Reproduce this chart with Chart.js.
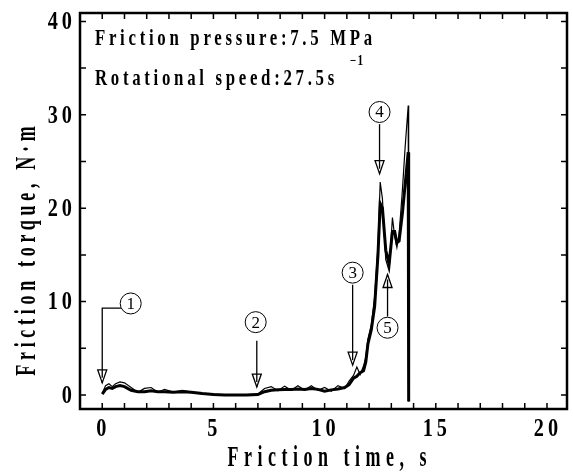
<!DOCTYPE html>
<html>
<head>
<meta charset="utf-8">
<script src="https://cdn.jsdelivr.net/npm/chart.js@4.4.0/dist/chart.umd.min.js"></script>
<style>
  html, body { margin: 0; padding: 0; background: #fff; }
  #wrap { width: 573px; height: 473px; }
</style>
</head>
<body>
<div id="wrap"><canvas id="torqueChart"></canvas></div>
<script>
// friction time (s) and torque (N·m)
const timeS = [0, 0.15, 0.3, 0.45, 0.6, 0.8, 1.0, 1.3, 1.6, 1.9, 2.2, 2.5, 2.8, 3.2, 3.6, 4.0, 4.5, 5.0, 5.5, 6.0, 6.5, 7.0, 7.3, 7.6, 7.9, 8.2, 8.5, 8.8, 9.1, 9.4, 9.7, 10.0, 10.3, 10.6, 10.9, 11.1, 11.3, 11.45, 11.6, 11.75, 11.85, 11.95, 12.1, 12.25, 12.4, 12.5, 12.6, 12.75, 12.9, 13.05, 13.15, 13.25, 13.35, 13.5, 13.62, 13.76, 13.78];
const torqueThick = [0.1, 0.6, 0.8, 0.7, 0.9, 1.0, 0.9, 0.5, 0.35, 0.35, 0.45, 0.35, 0.35, 0.3, 0.35, 0.3, 0.15, 0.05, 0.0, 0.0, 0.0, 0.05, 0.35, 0.5, 0.55, 0.6, 0.6, 0.65, 0.6, 0.7, 0.6, 0.4, 0.55, 0.65, 0.8, 1.1, 1.8, 2.0, 2.4, 2.6, 3.5, 5.5, 7.0, 9.5, 15.0, 20.5, 20.0, 15.5, 14.0, 17.5, 17.5, 16.3, 16.5, 19.5, 22.5, 26.0, -0.7];
const torqueThin = [0.2, 1.0, 1.2, 0.9, 1.2, 1.4, 1.3, 0.8, 0.3, 0.7, 0.8, 0.3, 0.6, 0.3, 0.5, 0.35, 0.1, 0.1, 0.0, 0.0, 0.05, 0.1, 0.7, 0.9, 0.45, 0.95, 0.5, 1.0, 0.5, 1.0, 0.5, 0.8, 0.4, 1.0, 0.7, 1.5, 2.1, 3.0, 2.2, 3.1, 4.0, 6.0, 7.5, 10.5, 16.0, 22.8, 21.0, 14.5, 13.3, 19.0, 17.0, 15.8, 17.2, 22.0, 26.5, 31.0, -0.7];

const xTicks = [0, 5, 10, 15, 20];
const yTicks = [0, 10, 20, 30, 40];
const xTitle = 'Friction time, s';
const yTitle = 'Friction torque, N·m';
const infoLines = ['Friction pressure:7.5 MPa', 'Rotational speed:27.5s'];

// numbered markers: circle centre and arrow path, in data units
const markers = [
  { num: '1', circle: [1.28, 9.8], path: [[0.85, 9.3], [0, 9.3], [0, 1.3]] },
  { num: '2', circle: [6.9, 7.8], path: [[6.95, 5.8], [6.95, 0.85]] },
  { num: '3', circle: [11.26, 13.1], path: [[11.26, 11.8], [11.26, 3.2]] },
  { num: '4', circle: [12.47, 30.3], path: [[12.47, 29.0], [12.47, 23.7]] },
  { num: '5', circle: [12.83, 7.2], path: [[12.83, 8.4], [12.83, 12.9]] }
];

const SERIF = '"Liberation Serif", "DejaVu Serif", serif';

// narrow, letter-spaced text like the scanned figure
function squeezed(ctx, text, x, y, font, sx, spacing, align) {
  ctx.save();
  ctx.font = font;
  ctx.letterSpacing = (spacing / sx) + 'px';
  ctx.textAlign = 'left';
  const w = ctx.measureText(text).width - spacing / sx;
  ctx.translate(x, y);
  ctx.scale(sx, 1);
  let x0 = 0;
  if (align === 'center') x0 = -w / 2;
  else if (align === 'right') x0 = -w;
  ctx.fillText(text, x0, 0);
  ctx.restore();
}

const framePlugin = {
  id: 'frame',
  afterDraw(chart) {
    const ctx = chart.ctx;
    const a = chart.chartArea;
    const xs = chart.scales.x, ys = chart.scales.y;
    ctx.save();
    ctx.strokeStyle = '#000';
    ctx.fillStyle = '#000';

    // box
    ctx.lineWidth = 2.5;
    ctx.strokeRect(a.left, a.top, a.right - a.left, a.bottom - a.top);

    // inward ticks on all four sides
    ctx.lineWidth = 1.5;
    ctx.beginPath();
    for (let t = 0; t <= 20; t++) {
      const px = xs.getPixelForValue(t);
      ctx.moveTo(px, a.bottom); ctx.lineTo(px, a.bottom - 6);
      ctx.moveTo(px, a.top); ctx.lineTo(px, a.top + 6);
    }
    for (let v = 0; v <= 40; v += 5) {
      const py = ys.getPixelForValue(v);
      ctx.moveTo(a.left, py); ctx.lineTo(a.left + 6, py);
      ctx.moveTo(a.right, py); ctx.lineTo(a.right - 6, py);
    }
    ctx.stroke();

    // tick labels
    ctx.textBaseline = 'middle';
    const tickFont = 'bold 26px ' + SERIF;
    xs.ticks.forEach(tk => {
      squeezed(ctx, String(tk.value), xs.getPixelForValue(tk.value) - 1, 429, tickFont, 0.78, 4, 'center');
    });
    ys.ticks.forEach(tk => {
      squeezed(ctx, String(tk.value), a.left - 8, ys.getPixelForValue(tk.value) + 1, tickFont, 0.78, 4, 'right');
    });

    // axis titles
    ctx.textBaseline = 'alphabetic';
    const titleFont = 'bold 30px ' + SERIF;
    squeezed(ctx, xTitle, 327, 466, titleFont, 0.6, 5.5, 'center');
    ctx.save();
    ctx.translate(35, 251);
    ctx.rotate(-Math.PI / 2);
    squeezed(ctx, yTitle, 0, 0, titleFont, 0.6, 4.7, 'center');
    ctx.restore();

    // test conditions
    const infoFont = 'bold 24px ' + SERIF;
    squeezed(ctx, infoLines[0], a.left + 15, 45, infoFont, 0.7, 3.7, 'left');
    squeezed(ctx, infoLines[1], a.left + 15, 85, infoFont, 0.7, 3.7, 'left');
    squeezed(ctx, '−1', 350, 65, 'bold 14px ' + SERIF, 0.8, 1, 'left');

    // numbered markers with arrows
    markers.forEach(m => {
      const cx = xs.getPixelForValue(m.circle[0]);
      const cy = ys.getPixelForValue(m.circle[1]);
      ctx.lineWidth = 1;
      ctx.beginPath();
      ctx.arc(cx, cy, 10.5, 0, Math.PI * 2);
      ctx.stroke();
      ctx.font = '17px ' + SERIF;
      ctx.letterSpacing = '0px';
      ctx.textAlign = 'center';
      ctx.textBaseline = 'middle';
      ctx.fillText(m.num, cx, cy + 1);

      const pts = m.path.map(p => [xs.getPixelForValue(p[0]), ys.getPixelForValue(p[1])]);
      ctx.lineWidth = 1.3;
      ctx.beginPath();
      ctx.moveTo(pts[0][0], pts[0][1]);
      for (let i = 1; i < pts.length; i++) ctx.lineTo(pts[i][0], pts[i][1]);
      ctx.stroke();

      // hollow arrowhead
      const tip = pts[pts.length - 1], prev = pts[pts.length - 2];
      const dir = Math.sign(tip[1] - prev[1]);
      ctx.beginPath();
      ctx.moveTo(tip[0], tip[1]);
      ctx.lineTo(tip[0] - 4.5, tip[1] - dir * 13);
      ctx.lineTo(tip[0] + 4.5, tip[1] - dir * 13);
      ctx.closePath();
      ctx.fillStyle = '#fff';
      ctx.fill();
      ctx.stroke();
      ctx.beginPath();
      ctx.moveTo(tip[0], tip[1] - dir * 13);
      ctx.lineTo(tip[0], tip[1] - dir * 5);
      ctx.stroke();
      ctx.fillStyle = '#000';
    });
    ctx.restore();
  }
};

new Chart(document.getElementById('torqueChart'), {
  type: 'line',
  data: {
    datasets: [
      {
        label: 'thin',
        data: timeS.map((t, i) => ({ x: t, y: torqueThin[i] })),
        borderColor: '#000',
        borderWidth: 1.2,
        pointRadius: 0,
        tension: 0
      },
      {
        label: 'thick',
        data: timeS.map((t, i) => ({ x: t, y: torqueThick[i] })),
        borderColor: '#000',
        borderWidth: 3,
        pointRadius: 0,
        tension: 0
      }
    ]
  },
  options: {
    responsive: true,
    maintainAspectRatio: false,
    animation: false,
    layout: { padding: { top: 13, right: 6, left: 0, bottom: 0 } },
    plugins: { legend: { display: false }, tooltip: { enabled: false } },
    scales: {
      x: {
        type: 'linear',
        min: -1,
        max: 20.9,
        afterBuildTicks: s => { s.ticks = xTicks.map(v => ({ value: v })); },
        afterFit: s => { s.height = 64; },
        grid: { display: false, drawTicks: false },
        border: { display: false },
        ticks: { display: false }
      },
      y: {
        type: 'linear',
        min: -1.5,
        max: 40.9,
        afterBuildTicks: s => { s.ticks = yTicks.map(v => ({ value: v })); },
        afterFit: s => { s.width = 80; },
        grid: { display: false, drawTicks: false },
        border: { display: false },
        ticks: { display: false }
      }
    }
  },
  plugins: [framePlugin]
});
</script>
</body>
</html>
